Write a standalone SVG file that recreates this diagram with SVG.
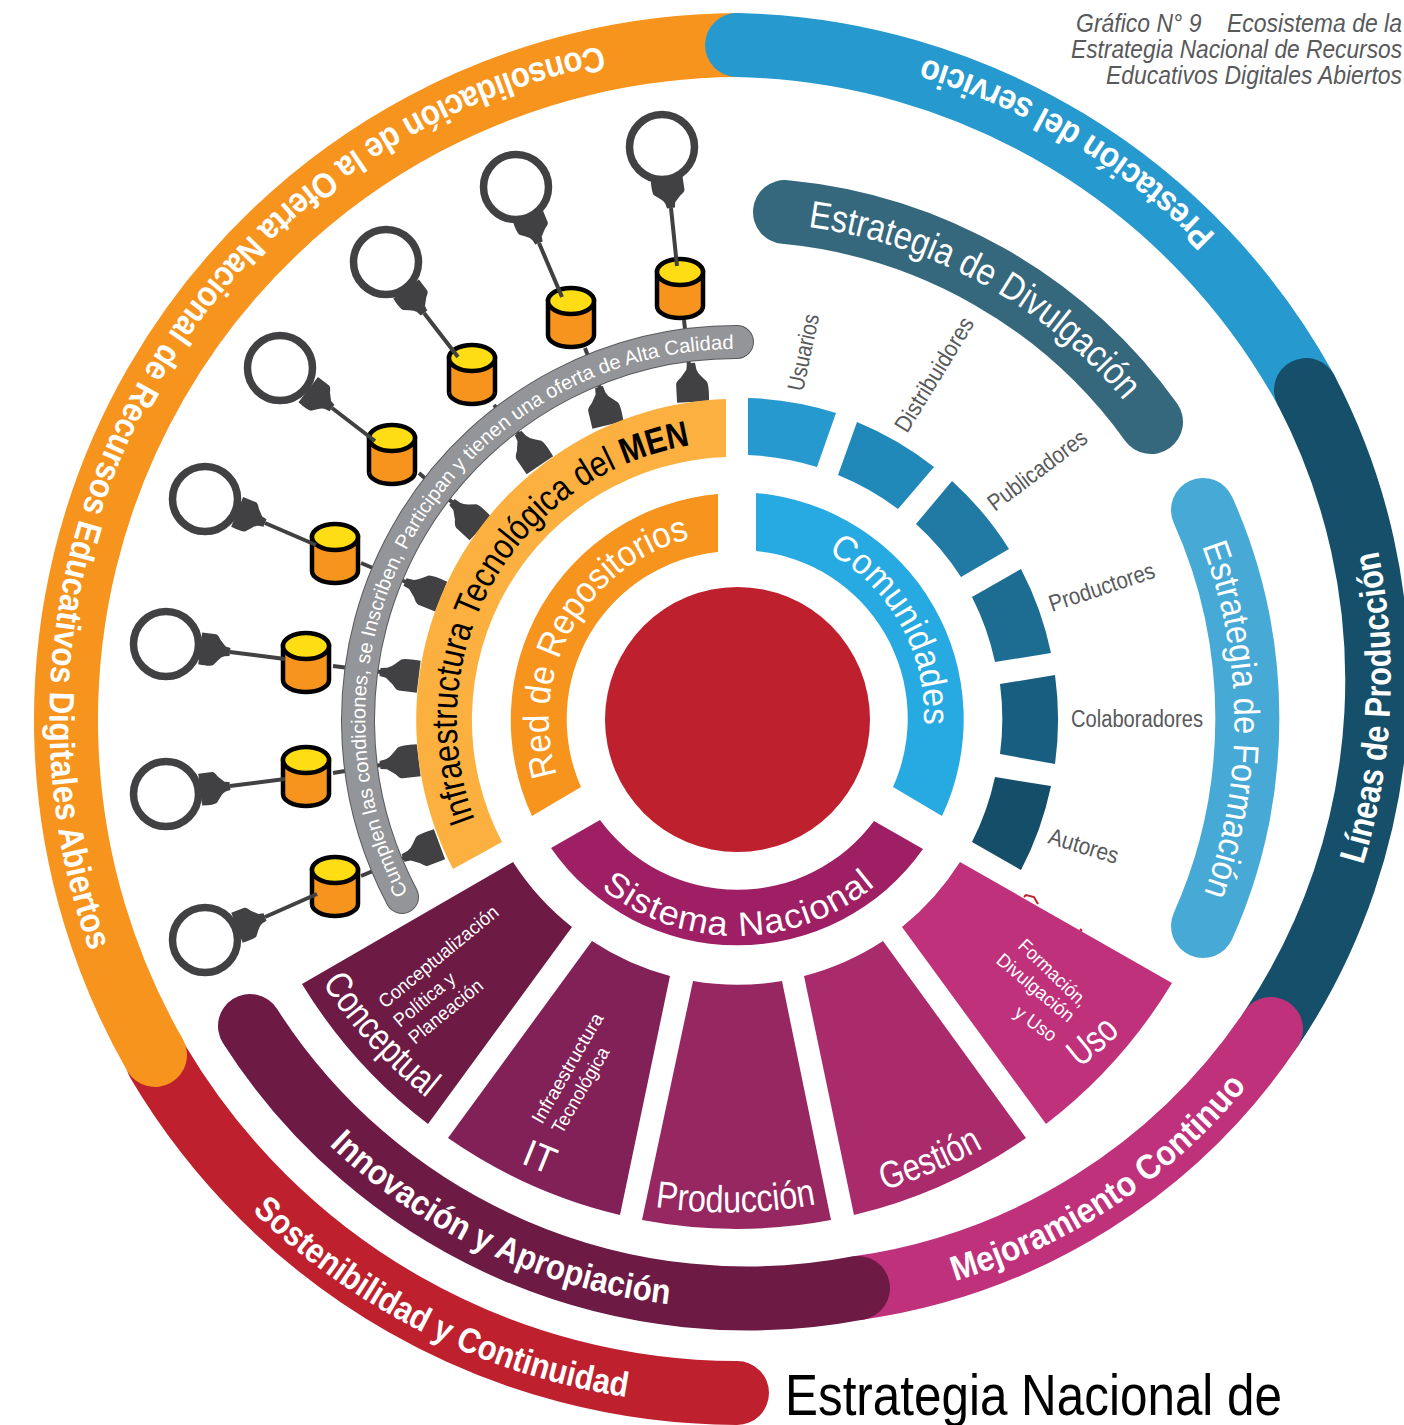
<svg xmlns="http://www.w3.org/2000/svg" xmlns:xlink="http://www.w3.org/1999/xlink" width="1404" height="1425" viewBox="0 0 1404 1425">
<style>
text{font-family:"Liberation Sans",Arial,sans-serif}
.w{fill:#fff}
.b{font-weight:700}
.band{fill:none;stroke-linecap:round;stroke-width:64}
.lbl{fill:#58595b;font-size:23.5px}
.small{fill:#fff;font-size:19px}
.big{fill:#fff;font-size:38px}
.ring{fill:#fff;stroke:#414042;stroke-width:7.5}
.plug{fill:#414042}
.link{stroke:#414042;stroke-width:4;fill:none}
.cylb{fill:#f7941d;stroke:#000;stroke-width:4.5}
.cylt{fill:#ffdd15;stroke:#000;stroke-width:4.5}
.title{fill:#58595b;font-size:25px;font-style:italic}
</style>
<defs>
<path id="plug" class="plug" d="M0 -4L5 -5Q8 -6 11 -10L15 -15Q18 -17 30 -16L30 16L16 16Q14 16 11 11L5 5L0 4Z"/>
<g id="cyl"><path class="cylb" d="M-23 -16V18A23 12 0 0 0 23 18V-16Z"/><ellipse class="cylt" cx="0" cy="-16" rx="23" ry="13"/></g>
<path id="p-cons" d="M602 46A687 687 0 0 0 91 955"/>
<path id="p-pres" d="M1216 235A680 680 0 0 0 929 60"/>
<path id="p-lin" d="M1363 865A641 641 0 0 0 1378 551"/>
<path id="p-mej" d="M955 1281A600 600 0 0 0 1248 1085"/>
<path id="p-sos" d="M252 1211A687 687 0 0 0 633 1398"/>
<path id="p-inn" d="M329 1145A587 587 0 0 0 669 1304"/>
<path id="p-div" d="M808 227A498 498 0 0 1 1125 402"/>
<path id="p-for" d="M1202 546A497 497 0 0 1 1203 896"/>
<path id="p-inf" d="M475 820A279 279 0 0 1 692 445"/>
<path id="p-red" d="M557 775A187 187 0 0 1 693 538"/>
<path id="p-com" d="M828 553A187 187 0 0 1 924 726"/>
<path id="p-sis" d="M601 888A216 216 0 0 0 877 884"/>
<path id="p-gray" d="M408 893A371 371 0 0 1 735 349"/>
<path id="p-con" d="M322 983A490 490 0 0 0 433 1103"/>
<path id="p-pro" d="M655 1207A490 490 0 0 0 817 1204"/>
<path id="p-ges" d="M884 1190A492 492 0 0 0 985 1147"/>
<path id="p-uso" d="M1080 1068A490 490 0 0 0 1120 1033"/>
</defs>

<g id="outer-ring">
<path class="band" stroke="#be202e" d="M158 1062A675 675 0 0 0 737 1393"/>
<path class="band" stroke="#f7941d" d="M155 1055A675 675 0 0 1 737 45"/>
<path class="band" stroke="#2699cf" d="M737 45A665 665 0 0 1 1306 390"/>
<path class="band" stroke="#154f6a" d="M1306 390A626 626 0 0 1 1271 1029"/>
<path class="band" stroke="#c0317c" d="M1271 1029A600 600 0 0 1 858 1288"/>
<path class="band" stroke="#6d1a45" d="M250 1026A590 590 0 0 0 858 1288"/>
<path class="band" stroke="#36687d" stroke-width="62" d="M785 212A510 510 0 0 1 1151 422"/>
<path class="band" stroke="#47a9d5" stroke-width="62" d="M1203 510A510 510 0 0 1 1203 926"/>
</g>

<g id="center"><circle cx="737.5" cy="719.5" r="132.5" fill="#be202e"/></g>

<g id="repo-a"><use xlink:href="#plug" transform="translate(691 363) rotate(87) scale(1.3 1)"/><use xlink:href="#plug" transform="translate(671 208) rotate(-98.4)"/><circle class="ring" cx="662" cy="147" r="32.5"/><use xlink:href="#cyl" x="680" y="288"/></g>
<g id="repo-b"><use xlink:href="#plug" transform="translate(599 387) rotate(76.7) scale(1.3 1)"/><use xlink:href="#plug" transform="translate(539 243) rotate(-112.3)"/><circle class="ring" cx="516" cy="187" r="32.5"/><use xlink:href="#cyl" x="571" y="317"/></g>
<g id="repo-c"><use xlink:href="#plug" transform="translate(518 433) rotate(55.9) scale(1.3 1)"/><use xlink:href="#plug" transform="translate(424 313) rotate(-126.7)"/><circle class="ring" cx="386" cy="262" r="32.5"/><use xlink:href="#cyl" x="472" y="374"/></g>
<g id="repo-d"><use xlink:href="#plug" transform="translate(452 502) rotate(43) scale(1.3 1)"/><use xlink:href="#plug" transform="translate(332 408) rotate(-142.4)"/><circle class="ring" cx="280" cy="368" r="32.5"/><use xlink:href="#cyl" x="392" y="454"/></g>
<g id="repo-e"><use xlink:href="#plug" transform="translate(405 582) rotate(22) scale(1.3 1)"/><use xlink:href="#plug" transform="translate(265 523) rotate(-158.2)"/><circle class="ring" cx="205" cy="499" r="32.5"/><use xlink:href="#cyl" x="335" y="553"/></g>
<g id="repo-f"><use xlink:href="#plug" transform="translate(380 672) rotate(7) scale(1.3 1)"/><use xlink:href="#plug" transform="translate(230 652) rotate(-172.9)"/><circle class="ring" cx="166" cy="644" r="32.5"/><use xlink:href="#cyl" x="306" y="662"/></g>
<g id="repo-g"><use xlink:href="#plug" transform="translate(380 765) rotate(-7) scale(1.3 1)"/><use xlink:href="#plug" transform="translate(230 786) rotate(172.9)"/><circle class="ring" cx="166" cy="794" r="32.5"/><use xlink:href="#cyl" x="306" y="776"/></g>
<g id="repo-h"><use xlink:href="#plug" transform="translate(403 858) rotate(-20.5) scale(1.3 1)"/><use xlink:href="#plug" transform="translate(265 917) rotate(159)"/><circle class="ring" cx="205" cy="940" r="32.5"/><use xlink:href="#cyl" x="335" y="886"/></g>

<g id="connectors">
<path class="link" d="M671 208L677 266M684 320L689 366"/>
<path class="link" d="M539 243L562 297M585 348L600 388"/>
<path class="link" d="M424 313L458 357M494 405L519 434"/>
<path class="link" d="M332 408L375 441M419 473L453 503"/>
<path class="link" d="M265 523L316 545M361 563L406 582"/>
<path class="link" d="M230 652L285 659M333 666L381 672"/>
<path class="link" d="M230 786L285 779M333 773L381 765"/>
<path class="link" d="M265 917L317 894M361 876L404 858"/>
</g>

<g id="gray-band">
<path fill="none" stroke="#58595b" stroke-width="34" stroke-linecap="round" d="M402 897A378 378 0 0 1 737 342"/>
<path fill="none" stroke="#939598" stroke-width="32" stroke-linecap="round" d="M402 897A378 378 0 0 1 737 342"/>
</g>

<g id="infraestructura"><path fill="#fbb040" d="M726 399A321 321 0 0 0 453 869L502 842A263 263 0 0 1 726 457Z"/></g>
<g id="red-repositorios"><path fill="#f7941d" d="M718 494A227 227 0 0 0 532 816L581 787A168 168 0 0 1 718 552Z"/></g>
<g id="comunidades"><path fill="#27aae1" d="M756 493A227 227 0 0 1 942 816L893 787A168 168 0 0 0 756 551Z"/></g>
<g id="sistema-nacional"><path fill="#9e1f63" d="M600 820A170 170 0 0 0 874 821L923 849A227 227 0 0 1 551 848Z"/></g>

<g id="usuarios"><path fill="#2699cf" d="M748 398A322 322 0 0 1 836 413L817 467A265 265 0 0 0 748 455Z"/></g>
<g id="distribuidores"><path fill="#2089ba" d="M857 422A322 322 0 0 1 934 467L898 509A265 265 0 0 0 838 475Z"/></g>
<g id="publicadores"><path fill="#217aa4" d="M952 481A322 322 0 0 1 1009 549L961 577A265 265 0 0 0 916 524Z"/></g>
<g id="productores"><path fill="#1d6d92" d="M1021 569A322 322 0 0 1 1051 653L995 662A265 265 0 0 0 972 597Z"/></g>
<g id="colaboradores"><path fill="#175e80" d="M1055 675A322 322 0 0 1 1055 764L1000 754A265 265 0 0 0 1000 684Z"/></g>
<g id="autores"><path fill="#154e68" d="M995 777L1051 786A322 322 0 0 1 1021 870L972 842A265 265 0 0 0 995 777Z"/></g>

<g id="conceptual"><path fill="#6d1a45" d="M513 862L302 984A509 509 0 0 0 428 1124L572 927A265 265 0 0 1 513 862Z"/></g>
<g id="it"><path fill="#822157" d="M592 941L448 1138A509 509 0 0 0 620 1215L670 976A265 265 0 0 1 592 941Z"/></g>
<g id="produccion"><path fill="#962761" d="M693 981L642 1220A509 509 0 0 0 831 1220L782 981A265 265 0 0 1 693 981Z"/></g>
<g id="gestion"><path fill="#a92b6c" d="M804 976L854 1215A509 509 0 0 0 1026 1138L883 941A265 265 0 0 1 804 976Z"/></g>
<g id="uso"><path fill="#c0317c" d="M960 862L1172 983A509 509 0 0 1 1046 1124L902 927A265 265 0 0 0 960 862Z"/></g>
<path fill="none" stroke="#be202e" stroke-width="2" d="M1024 897L1026 895L1034 897L1038 904M1080 929L1082 931"/>

<g id="labels">
<text class="w b" font-size="35"><textPath xlink:href="#p-cons" textLength="1180" lengthAdjust="spacingAndGlyphs">Consolidación de la Oferta Nacional de Recursos Educativos Digitales Abiertos</textPath></text>
<text class="w b" font-size="35"><textPath xlink:href="#p-pres" textLength="345" lengthAdjust="spacingAndGlyphs">Prestación del servicio</textPath></text>
<text class="w b" font-size="36"><textPath xlink:href="#p-lin" textLength="318" lengthAdjust="spacingAndGlyphs">Líneas de Producción</textPath></text>
<text class="w b" font-size="35"><textPath xlink:href="#p-mej" textLength="356" lengthAdjust="spacingAndGlyphs">Mejoramiento Continuo</textPath></text>
<text class="w b" font-size="35"><textPath xlink:href="#p-sos" textLength="425" lengthAdjust="spacingAndGlyphs">Sostenibilidad y Continuidad</textPath></text>
<text class="w b" font-size="35"><textPath xlink:href="#p-inn" textLength="382" lengthAdjust="spacingAndGlyphs">Innovación y Apropiación</textPath></text>
<text class="w" font-size="38"><textPath xlink:href="#p-div" textLength="369" lengthAdjust="spacingAndGlyphs">Estrategia de Divulgación</textPath></text>
<text class="w" font-size="36"><textPath xlink:href="#p-for" textLength="355" lengthAdjust="spacingAndGlyphs">Estrategia de Formación</textPath></text>
<text font-size="36" fill="#000"><textPath xlink:href="#p-inf" textLength="494" lengthAdjust="spacingAndGlyphs">Infraestructura Tecnológica del <tspan class="b">MEN</tspan></textPath></text>
<text class="w" font-size="36"><textPath xlink:href="#p-red" textLength="303" lengthAdjust="spacingAndGlyphs">Red de Repositorios</textPath></text>
<text class="w" font-size="36"><textPath xlink:href="#p-com" textLength="207" lengthAdjust="spacingAndGlyphs">Comunidades</textPath></text>
<text class="w" font-size="34" letter-spacing="1"><textPath xlink:href="#p-sis" textLength="298" lengthAdjust="spacingAndGlyphs">Sistema Nacional</textPath></text>
<text class="w" font-size="20"><textPath xlink:href="#p-gray" textLength="760" lengthAdjust="spacingAndGlyphs">Cumplen las condiciones, se Inscriben, Participan y tienen una oferta de Alta Calidad</textPath></text>
<text class="big"><textPath xlink:href="#p-con" textLength="156" lengthAdjust="spacingAndGlyphs">Conceptual</textPath></text>
<text class="big"><textPath xlink:href="#p-pro" textLength="162" lengthAdjust="spacingAndGlyphs">Producción</textPath></text>
<text class="big"><textPath xlink:href="#p-ges" textLength="108" lengthAdjust="spacingAndGlyphs">Gestión</textPath></text>
<text class="big"><textPath xlink:href="#p-uso" textLength="54" lengthAdjust="spacingAndGlyphs">Uso</textPath></text>
<text class="big" text-anchor="middle" transform="translate(535 1169) rotate(22)" textLength="32" lengthAdjust="spacingAndGlyphs">IT</text>

<text class="small" transform="translate(385 1009) rotate(-39.5)" textLength="149" lengthAdjust="spacingAndGlyphs">Conceptualización</text>
<text class="small" transform="translate(400 1028) rotate(-39.5)" textLength="74" lengthAdjust="spacingAndGlyphs">Política y</text>
<text class="small" transform="translate(415 1045) rotate(-39.5)" textLength="90" lengthAdjust="spacingAndGlyphs">Planeación</text>
<text class="small" transform="translate(542 1125) rotate(-60)" textLength="124" lengthAdjust="spacingAndGlyphs">Infraestructura</text>
<text class="small" transform="translate(562 1135) rotate(-60)" textLength="96" lengthAdjust="spacingAndGlyphs">Tecnológica</text>
<text class="small" transform="translate(1017 947) rotate(44)" textLength="88" lengthAdjust="spacingAndGlyphs">Formación,</text>
<text class="small" transform="translate(995 962) rotate(40)" textLength="95" lengthAdjust="spacingAndGlyphs">Divulgación</text>
<text class="small" transform="translate(1013 1015) rotate(36)" textLength="47" lengthAdjust="spacingAndGlyphs">y Uso</text>

<text class="lbl" transform="translate(803 392) rotate(-78)" textLength="78" lengthAdjust="spacingAndGlyphs">Usuarios</text>
<text class="lbl" transform="translate(907 434) rotate(-58.5)" textLength="130" lengthAdjust="spacingAndGlyphs">Distribuidores</text>
<text class="lbl" transform="translate(995 512) rotate(-37)" textLength="118" lengthAdjust="spacingAndGlyphs">Publicadores</text>
<text class="lbl" transform="translate(1052 612) rotate(-18.4)" textLength="110" lengthAdjust="spacingAndGlyphs">Productores</text>
<text class="lbl" x="1071" y="727" textLength="132" lengthAdjust="spacingAndGlyphs">Colaboradores</text>
<text class="lbl" transform="translate(1047 843) rotate(17)" textLength="72" lengthAdjust="spacingAndGlyphs">Autores</text>

<text class="title" x="1076" y="32" xml:space="preserve" textLength="326" lengthAdjust="spacingAndGlyphs">Gráfico N° 9    Ecosistema de la</text>
<text class="title" x="1071" y="58" textLength="331" lengthAdjust="spacingAndGlyphs">Estrategia Nacional de Recursos</text>
<text class="title" x="1106" y="84" textLength="296" lengthAdjust="spacingAndGlyphs">Educativos Digitales Abiertos</text>
<text x="785" y="1415" font-size="58" fill="#000" textLength="497" lengthAdjust="spacingAndGlyphs">Estrategia Nacional de</text>
</g>
</svg>
